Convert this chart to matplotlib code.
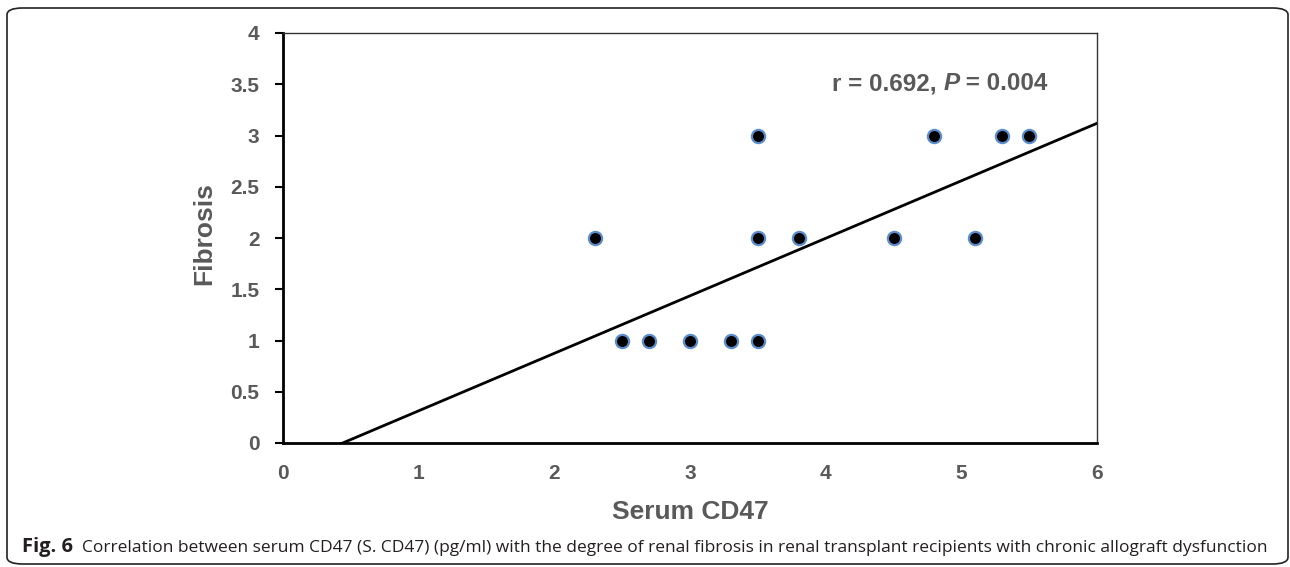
import matplotlib
matplotlib.use("Agg")
import matplotlib.pyplot as plt
from matplotlib.patches import FancyBboxPatch
import numpy as np

# Data
serum_cd47 = [2.5, 2.7, 3.0, 3.3, 3.5, 2.3, 3.5, 3.8, 4.5, 5.1, 3.5, 4.8, 5.3, 5.5]
fibrosis = [1, 1, 1, 1, 1, 2, 2, 2, 2, 2, 3, 3, 3, 3]
trend_slope = 0.561
trend_intercept = -0.247
x_ticks = [0, 1, 2, 3, 4, 5, 6]
y_ticks = [0, 0.5, 1, 1.5, 2, 2.5, 3, 3.5, 4]
y_tick_labels = ["0", "0.5", "1", "1.5", "2", "2.5", "3", "3.5", "4"]

W, H = 1290, 567
fig = plt.figure(figsize=(W / 100, H / 100), dpi=100)
gray = "#595959"
font = "Liberation Sans"

ax = fig.add_axes([283 / W, 1 - 443 / H, (1097 - 283) / W, (443 - 33) / H])
ax.set_xlim(0, 6)
ax.set_ylim(0, 4)

xs = np.array([0.0, 6.0])
ax.plot(xs, trend_slope * xs + trend_intercept, color="black", lw=2.0, zorder=2)
ax.plot(serum_cd47, fibrosis, linestyle="none", marker="o", markersize=9.5,
        markerfacecolor="black", markeredgecolor="#5b8ccb", markeredgewidth=1.6, zorder=3)

for side in ["left", "bottom"]:
    ax.spines[side].set_linewidth(2.0)
    ax.spines[side].set_color("black")
for side in ["top", "right"]:
    ax.spines[side].set_linewidth(1.0)
    ax.spines[side].set_color("#333333")

ax.set_xticks(x_ticks)
ax.set_xticklabels([str(v) for v in x_ticks])
ax.set_yticks(y_ticks)
ax.set_yticklabels(y_tick_labels)
ax.tick_params(axis="y", direction="out", length=6, width=1.5, color="black", pad=11)
ax.tick_params(axis="x", length=0, pad=15)
for lab in ax.get_xticklabels() + ax.get_yticklabels():
    lab.set_fontfamily(font)
    lab.set_fontweight("bold")
    lab.set_fontsize(15)
    lab.set_color(gray)

ax.set_xlabel("Serum CD47", fontfamily=font, fontweight="bold",
              fontsize=19, color=gray, va="center")
ax.xaxis.set_label_coords(0.5, (443 - 512) / 410)
ax.set_ylabel("Fibrosis", fontfamily=font, fontweight="bold",
              fontsize=19, color=gray, va="center")
ax.yaxis.set_label_coords((204 - 283) / 814, (443 - 234) / 410)

# Annotation laid out piece by piece
fig.canvas.draw()
renderer = fig.canvas.get_renderer()
pieces = [("r = 0.692, ", "normal"), ("P", "italic"), (" = 0.004", "normal")]
x_px = 832
y_px = H - 84
for txt, style in pieces:
    t = fig.text(x_px / W, y_px / H, txt, fontfamily=font, fontweight="bold",
                 fontstyle=style, fontsize=17.5, color=gray, ha="left", va="center")
    bb = t.get_window_extent(renderer)
    x_px += bb.width

# Caption
cap_y = 1 - 552 / H
fig.text(22 / W, cap_y, "Fig. 6", fontfamily="Open Sans", fontweight="bold",
         fontsize=14.5, color="#231f20", ha="left", va="baseline")
fig.text(82 / W, cap_y,
         "Correlation between serum CD47 (S. CD47) (pg/ml) with the degree of renal fibrosis in renal transplant recipients with chronic allograft dysfunction",
         fontfamily="Open Sans", fontsize=12.5, color="#231f20", ha="left", va="baseline")

# Rounded border
border = FancyBboxPatch((7 / W, 1 - 564 / H), (1288 - 7) / W, (564 - 8) / H,
                        boxstyle="round,pad=0,rounding_size=0.012",
                        transform=fig.transFigure, fill=False, edgecolor="#222222", lw=1.2)
fig.patches.append(border)

fig.savefig("out.png", dpi=100)
